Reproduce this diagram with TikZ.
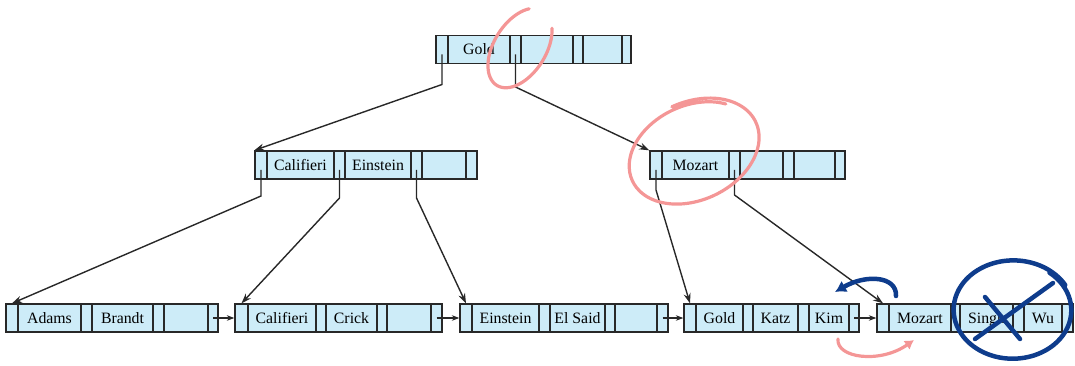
\documentclass[tikz,border=0pt]{standalone}
\usepackage{fontspec}
\setmainfont{Liberation Serif}
\usetikzlibrary{arrows.meta}

\definecolor{cellfill}{RGB}{205,236,248}
\definecolor{ink}{RGB}{40,40,40}
\definecolor{markpink}{RGB}{244,150,150}
\definecolor{marknavy}{RGB}{14,60,140}

\tikzset{
  cell/.style={draw=ink, fill=cellfill, line width=1.3pt, minimum height=28pt,
    inner sep=0pt, text height=10.5pt, text depth=0pt,
    font=\fontsize{15.8}{18}\selectfont},
  ptr/.style={draw=ink, line width=1.4pt, -{Stealth[length=10pt,width=7pt]}},
  sib/.style={draw=ink, line width=1.2pt, -{Stealth[length=7.5pt,width=5.5pt]}},
  pinkmark/.style={draw=markpink, line width=3.2pt, line cap=round, line join=round},
  navymark/.style={draw=marknavy, line width=4.5pt, line cap=round, line join=round},
}
% one cell of a B+-tree node: name, left x, right x, centre y, text
\newcommand\cl[5]{\node[cell, minimum width={(#3-#2)*1pt}] (#1) at ({(#2+#3)/2},#4) {#5};}

\begin{document}
\begin{tikzpicture}[x=1pt,y=-1pt]
\useasboundingbox (0,0) rectangle (1075,366);

% root
\foreach \nm/\xa/\xb/\tx in {p0/436/448/{}, k1/448/510/Gold, p1/510/521/{}, k2/521/573/{},
    p2/573/583/{}, k3/583/622/{}, p3/622/631/{}}
  {\cl{r-\nm}{\xa}{\xb}{49.5}{\tx}}

% internal nodes
\foreach \nm/\xa/\xb/\tx in {p0/255/267/{}, k1/267/334/Califieri, p1/334/345/{}, k2/345/411/Einstein,
    p2/411/422/{}, k3/422/466/{}, p3/466/477/{}}
  {\cl{c-\nm}{\xa}{\xb}{165}{\tx}}
\foreach \nm/\xa/\xb/\tx in {p0/650/662/{}, k1/662/729/Mozart, p1/729/740/{}, k2/740/783/{},
    p2/783/794/{}, k3/794/835/{}, p3/835/845/{}}
  {\cl{m-\nm}{\xa}{\xb}{165}{\tx}}

% leaves
\foreach \nm/\xa/\xb/\tx in {p0/6/18/{}, k1/18/81/Adams, p1/81/92/{}, k2/92/153/Brandt,
    p2/153/164/{}, k3/164/208/{}, p3/208/218/{}}
  {\cl{la-\nm}{\xa}{\xb}{318}{\tx}}
\foreach \nm/\xa/\xb/\tx in {p0/235/248/{}, k1/248/316/Califieri, p1/316/326/{}, k2/326/377/Crick,
    p2/377/387/{}, k3/387/431/{}, p3/431/442/{}}
  {\cl{lb-\nm}{\xa}{\xb}{318}{\tx}}
\foreach \nm/\xa/\xb/\tx in {p0/460/472/{}, k1/472/539/Einstein, p1/539/550/{}, k2/550/605/El Said,
    p2/605/615/{}, k3/615/657/{}, p3/657/668/{}}
  {\cl{lc-\nm}{\xa}{\xb}{318}{\tx}}
\foreach \nm/\xa/\xb/\tx in {p0/684/696/{}, k1/696/743/Gold, p1/743/753/{}, k2/753/798/Katz,
    p2/798/809/{}, k3/809/849/Kim, p3/849/859/{}}
  {\cl{ld-\nm}{\xa}{\xb}{318}{\tx}}
\foreach \nm/\xa/\xb/\tx in {p0/877/889/{}, k1/889/951/Mozart, p1/951/960/{}, k2/960/1013/Singh,
    p2/1013/1024/{}, k3/1024/1062/Wu, p3/1062/1073/{}}
  {\cl{le-\nm}{\xa}{\xb}{318}{\tx}}

% child pointers
\draw[ptr] ([yshift=-5pt]r-p0.center) -- ++(0,30) -- (c-p0.north west);
\draw[ptr] ([yshift=-5pt]r-p1.center) -- ++(0,32.5) -- (m-p0.north west);
\draw[ptr] ([yshift=-5pt]c-p0.center) -- ++(0,26) -- (la-p0.north);
\draw[ptr] ([yshift=-5pt]c-p1.center) -- ++(0,28) -- (lb-p0.north);
\draw[ptr] ([yshift=-5pt]c-p2.center) -- ++(0,28) -- (lc-p0.north);
\draw[ptr] ([yshift=-5pt]m-p0.center) -- ++(0,20) -- (ld-p0.north);
\draw[ptr] ([yshift=-5pt]m-p1.center) -- ++(0,25) -- (le-p0.north);

% sibling pointers between leaves
\draw[sib] (la-p3.center) -- (lb-p0.west);
\draw[sib] (lb-p3.center) -- (lc-p0.west);
\draw[sib] (lc-p3.center) -- (ld-p0.west);
\draw[sib] (ld-p3.center) -- (le-p0.west);

% pink pen marks
\draw[pinkmark] plot[smooth, domain=40:330, samples=60]
  ({520+23.3*cos(\x)+22*sin(\x)},{48-37.3*cos(\x)+13.8*sin(\x)});
\draw[pinkmark] plot[smooth, domain=-90:320, samples=80]
  ({693+(1.04-0.08*(\x+90)/410)*(61.6*cos(\x)+20.3*sin(\x))},
   {152+(1.04-0.08*(\x+90)/410)*(-28.8*cos(\x)+43.5*sin(\x))});
\draw[pinkmark, -{Latex[length=9pt,width=11pt]}]
  (838,339) .. controls (836,358) and (880,364) .. (914,340);

% navy pen marks
\draw[navymark, -{Latex[length=11pt,width=13pt]}]
  (896,296) .. controls (897,276) and (866,274) .. (835,292);
\draw[navymark] plot[smooth, domain=-51:330, samples=80]
  ({1013+(1+0.04*(\x+51)/381)*58*cos(\x)},{310+(1+0.04*(\x+51)/381)*48*sin(\x)});
\draw[navymark] (985,297) -- (1020,339);
\draw[navymark] (975,339) -- (1053,283);
\end{tikzpicture}
\end{document}
